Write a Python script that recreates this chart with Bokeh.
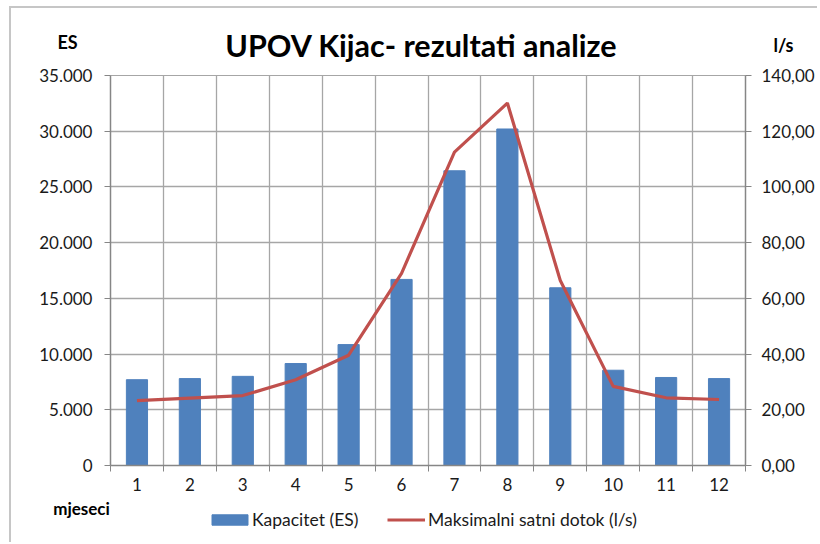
from bokeh.plotting import figure
from bokeh.layouts import column
from bokeh.models import (Range1d, LinearAxis, FixedTicker, CustomJSTickFormatter,
                          Label, Legend, LegendItem, ColumnDataSource)
from bokeh.embed import file_html
from bokeh.resources import INLINE

# ---- data ----
months = ["1", "2", "3", "4", "5", "6", "7", "8", "9", "10", "11", "12"]
capacity_es = [7700, 7800, 8000, 9150, 10850, 16700, 26450, 30200, 15950, 8550, 7900, 7800]
max_flow_ls = [23.3, 24.2, 25.1, 30.8, 39.6, 69.0, 112.5, 130.1, 66.4, 28.4, 24.3, 23.7]
es_ticks = [0, 5000, 10000, 15000, 20000, 25000, 30000, 35000]
flow_ticks = [0, 20, 40, 60, 80, 100, 120, 140]

FONT = "Lato"
W = 806
HEAD_H, MAIN_H, FOOT_H = 56, 430, 48
FL, FR = 99, 734          # frame left/right (canvas px)
MB_TOP, MB_BOT = 11, 29
N = len(months)

AX = "#868686"
GRID = "#a6a6a6"
TXT = "#1a1a1a"
BAR = "#4f81bd"
LINE = "#c0504d"


def blank(height):
    f = figure(width=W, height=height, output_backend="svg", toolbar_location=None,
               x_range=Range1d(0, W), y_range=Range1d(height, 0),
               min_border=0, outline_line_color=None)
    f.axis.visible = False
    f.grid.visible = False
    f.min_border_left = f.min_border_right = f.min_border_top = f.min_border_bottom = 0
    return f


def add_text(f, text, x, y, size, bold=True, baseline="middle"):
    f.add_layout(Label(x=x, y=y, text=text, text_font=FONT, text_font_size=size,
                       text_font_style="bold" if bold else "normal",
                       text_align="center", text_baseline=baseline, text_color="black"))


# ---- header ----
head = blank(HEAD_H)
add_text(head, "UPOV Kijac- rezultati analize", 410, 36, "30.5px")
add_text(head, "ES", 56, 33, "18px")
add_text(head, "l/s", 772, 36, "18px")

# ---- main chart ----
xs = list(range(1, N + 1))
src = ColumnDataSource(dict(x=xs, month=months, es=capacity_es, flow=max_flow_ls))

p = figure(width=W, height=MAIN_H, output_backend="svg", toolbar_location=None,
           x_range=Range1d(0.5, N + 0.5), y_range=Range1d(0, es_ticks[-1]),
           min_border_left=FL, min_border_right=W - FR,
           min_border_top=MB_TOP, min_border_bottom=MB_BOT)
p.extra_y_ranges = {"flow": Range1d(0, flow_ticks[-1])}
p.outline_line_color = GRID

boundaries = [i + 0.5 for i in range(N + 1)]
p.xaxis.ticker = FixedTicker(ticks=xs, minor_ticks=boundaries)
p.xaxis.major_label_overrides = {x: m for x, m in zip(xs, months)}
p.xaxis.major_tick_line_color = None
p.xaxis.minor_tick_line_color = AX
p.xaxis.minor_tick_out = 6
p.xaxis.minor_tick_in = 0
p.xaxis.axis_line_color = AX
p.xaxis.axis_line_width = 1.5
p.xaxis.major_label_text_font = FONT
p.xaxis.major_label_text_font_size = "17px"
p.xaxis.major_label_text_color = TXT
p.xaxis.major_label_standoff = 6
p.xgrid.ticker = FixedTicker(ticks=boundaries)
p.xgrid.grid_line_color = GRID
p.xgrid.grid_line_width = 1.3

p.yaxis.ticker = FixedTicker(ticks=es_ticks)
p.yaxis.formatter = CustomJSTickFormatter(
    code="return tick.toFixed(0).replace(/\\B(?=(\\d{3})+(?!\\d))/g, '.');")
p.yaxis.minor_tick_line_color = None
p.yaxis.major_tick_out = 6
p.yaxis.major_tick_in = 0
p.yaxis.major_tick_line_color = AX
p.yaxis.axis_line_color = AX
p.yaxis.axis_line_width = 1.5
p.yaxis.major_label_text_font = FONT
p.yaxis.major_label_text_font_size = "17px"
p.yaxis.major_label_text_color = TXT
p.yaxis.major_label_standoff = 12
p.ygrid.grid_line_color = GRID
p.ygrid.grid_line_width = 1.3

ra = LinearAxis(y_range_name="flow", ticker=FixedTicker(ticks=flow_ticks),
                formatter=CustomJSTickFormatter(code="return tick.toFixed(2).replace('.', ',');"))
ra.minor_tick_line_color = None
ra.major_tick_out = 6
ra.major_tick_in = 0
ra.major_tick_line_color = AX
ra.axis_line_color = AX
ra.axis_line_width = 1.5
ra.major_label_text_font = FONT
ra.major_label_text_font_size = "17px"
ra.major_label_text_color = TXT
ra.major_label_standoff = 10
p.add_layout(ra, "right")

p.vbar(x="x", top="es", width=0.4, source=src, fill_color=BAR, line_color=BAR)
p.line(x="x", y="flow", source=src, line_color=LINE, line_width=3.2, y_range_name="flow")

# ---- footer: axis title + legend ----
foot = blank(FOOT_H)
add_text(foot, "mjeseci", 70, 14, "17px", baseline="alphabetic")
# legend proxies: same series, hidden (legend only draws their swatches)
lb = foot.vbar(x="x", top="es", width=0.4, source=src, fill_color=BAR, line_color=BAR,
               visible=False)
ll = foot.line(x="x", y="flow", source=src, line_color=LINE, line_width=3.2, visible=False)

LEG = dict(orientation="horizontal", border_line_color=None, background_fill_alpha=0,
           label_text_font=FONT, label_text_font_size="17.5px", label_text_color=TXT,
           padding=0, margin=0, glyph_height=13)
foot.add_layout(Legend(items=[LegendItem(label="Kapacitet (ES)", renderers=[lb])],
                       location=(196, 12), glyph_width=45, label_standoff=0, **LEG))
foot.add_layout(Legend(items=[LegendItem(label="Maksimalni satni dotok (l/s)", renderers=[ll])],
                       location=(376, 12), glyph_width=38, label_standoff=3, **LEG))

layout = column(column(head), p, column(foot), spacing=0)
layout.styles = {"border-left": "2px solid #c6c6c6", "border-top": "2px solid #c6c6c6",
                 "margin-left": "9px", "margin-top": "6px"}

open("out.html", "w").write(file_html(layout, INLINE))
